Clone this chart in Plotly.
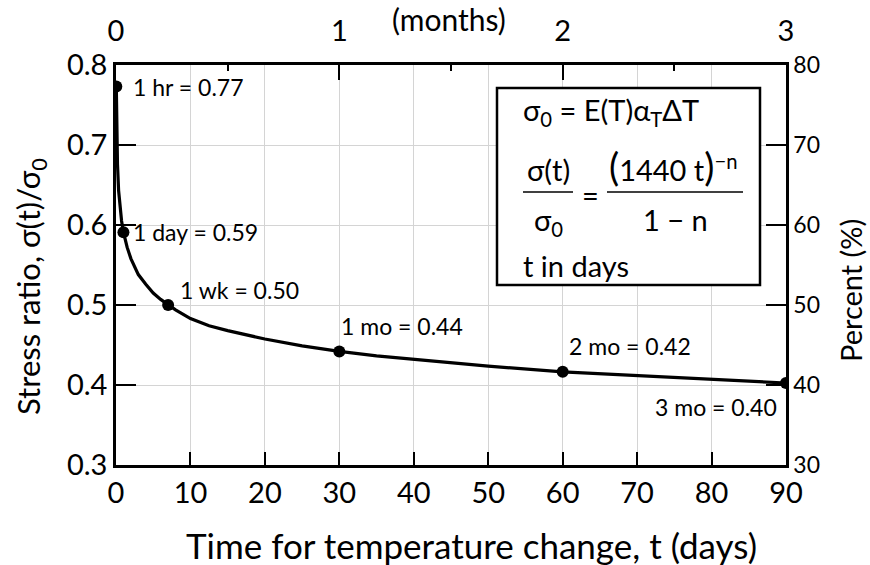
import plotly.graph_objects as go

# ---- data ----
t_days = [0.0417, 0.1, 0.2, 0.35, 0.5, 0.75, 1, 1.5, 2, 3, 4, 5, 6, 7, 8, 10,
          12.5, 15, 17.5, 20, 25, 30, 35, 40, 50, 60, 70, 80, 90]
stress_ratio = [0.773, 0.718, 0.676, 0.643, 0.625, 0.605, 0.591, 0.572, 0.558,
                0.538, 0.526, 0.515, 0.507, 0.500, 0.494, 0.483, 0.474, 0.468,
                0.4625, 0.4575, 0.449, 0.442, 0.4365, 0.432, 0.4235, 0.4165,
                0.4115, 0.407, 0.4025]

key_t = [1 / 24, 1, 7, 30, 60, 90]
key_ratio = [0.773, 0.591, 0.500, 0.442, 0.4165, 0.4025]
key_labels = ["1 hr = 0.77", "1 day = 0.59", "1 wk = 0.50",
              "1 mo = 0.44", "2 mo = 0.42", "3 mo = 0.40"]

x_range = [0, 90]
y_range = [0.3, 0.8]
day_ticks = [0, 10, 20, 30, 40, 50, 60, 70, 80, 90]
ratio_ticks = [0.3, 0.4, 0.5, 0.6, 0.7, 0.8]
months = [0, 1, 2, 3]
days_per_month = 30
percent_range = [v * 100 for v in y_range]
percent_ticks = [30, 40, 50, 60, 70, 80]

FONT = "Lato"
W, H = 870, 565
L, R, T, B = 116, 84, 65, 100


def px(xp):
    return (xp - L) / (W - L - R)


def py(yp):
    return (H - B - yp) / (H - T - B)


fig = go.Figure()

fig.add_trace(go.Scatter(x=t_days, y=stress_ratio, mode="lines",
                         line=dict(color="black", width=3.2),
                         hoverinfo="skip", showlegend=False))
fig.add_trace(go.Scatter(x=key_t, y=key_ratio, mode="markers",
                         marker=dict(color="black", size=12),
                         showlegend=False))
# helpers so the secondary axes are drawn
fig.add_trace(go.Scatter(x=[m * days_per_month for m in months], y=[y_range[0]] * len(months),
                         xaxis="x2", yaxis="y", mode="markers",
                         marker=dict(opacity=0), hoverinfo="skip", showlegend=False))
fig.add_trace(go.Scatter(x=x_range, y=percent_range, xaxis="x", yaxis="y2", mode="markers",
                         marker=dict(opacity=0), hoverinfo="skip", showlegend=False))

# point labels
label_style = [
    dict(xshift=15, yshift=0, xanchor="left"),
    dict(xshift=8, yshift=0, xanchor="left"),
    dict(xshift=10, yshift=15, xanchor="left"),
    dict(xshift=0, yshift=25, xanchor="left"),
    dict(xshift=4, yshift=26, xanchor="left"),
    dict(xshift=-7, yshift=-24, xanchor="right"),
]
for tx, ty, lab, st in zip(key_t, key_ratio, key_labels, label_style):
    fig.add_annotation(x=tx, y=ty, xref="x", yref="y", text=lab, showarrow=False,
                       yanchor="middle", font=dict(family=FONT, size=23, color="black"),
                       **st)

axis_font = dict(family=FONT, size=29, color="black")

fig.update_layout(
    width=W, height=H,
    margin=dict(l=L, r=R, t=T, b=B),
    paper_bgcolor="white", plot_bgcolor="white",
    font=dict(family=FONT, color="black"),
    xaxis=dict(range=x_range, tickvals=day_ticks, ticks="inside", ticklen=13,
               tickwidth=2, tickcolor="black", showline=True, linecolor="black",
               linewidth=2.5, showgrid=True, gridcolor="#d4d4d4", gridwidth=1,
               zeroline=False, tickfont=axis_font),
    xaxis2=dict(range=x_range, overlaying="x", side="top", anchor="y",
                tickvals=[m * days_per_month for m in months],
                ticktext=[str(m) for m in months],
                ticks="inside", ticklen=15, tickwidth=2, tickcolor="black",
                minor=dict(dtick=days_per_month / 2, tick0=0, ticks="inside",
                           ticklen=6, tickwidth=2, tickcolor="black", showgrid=False),
                ticklabelstandoff=10,
                showline=True, linecolor="black", linewidth=2.5, showgrid=False,
                zeroline=False, tickfont=axis_font),
    yaxis=dict(range=y_range, tickvals=ratio_ticks, tickformat=".1f", ticks="inside",
               ticklen=20, tickwidth=2, tickcolor="black", showline=True,
               linecolor="black", linewidth=2.5, showgrid=True, gridcolor="#d4d4d4",
               gridwidth=1, zeroline=False, tickfont=axis_font),
    yaxis2=dict(range=percent_range, tickvals=percent_ticks, overlaying="y", side="right",
                anchor="x", ticks="inside", ticklen=20, tickwidth=2, tickcolor="black",
                showline=True, linecolor="black", linewidth=2.5, showgrid=False,
                zeroline=False, tickfont=dict(family=FONT, size=23, color="black")),
)

fig.add_annotation(xref="paper", yref="paper", x=px(471), y=py(545),
                   text="Time for temperature change, t (days)", showarrow=False,
                   xanchor="center", yanchor="middle",
                   font=dict(family=FONT, size=35, color="black"))
fig.add_annotation(xref="paper", yref="paper", x=px(30), y=py(287),
                   text="Stress ratio, σ(t)/σ<sub>0</sub>", showarrow=False,
                   textangle=-90, xanchor="center", yanchor="middle",
                   font=dict(family=FONT, size=31, color="black"))
fig.add_annotation(xref="paper", yref="paper", x=px(850), y=py(291),
                   text="Percent (%)", showarrow=False, textangle=-90,
                   xanchor="center", yanchor="middle",
                   font=dict(family=FONT, size=29, color="black"))
fig.add_annotation(xref="paper", yref="paper", x=px(449), y=py(19),
                   text="(months)", showarrow=False, xanchor="center",
                   yanchor="middle", font=dict(family=FONT, size=30, color="black"))

# equation box
fig.add_shape(type="rect", xref="paper", yref="paper", x0=px(497), x1=px(760),
              y0=py(285), y1=py(88), fillcolor="white",
              line=dict(color="black", width=2.5), layer="above")
fig.add_shape(type="line", xref="paper", yref="paper", x0=px(523), x1=px(573),
              y0=py(192), y1=py(192), line=dict(color="black", width=1.5), layer="above")
fig.add_shape(type="line", xref="paper", yref="paper", x0=px(607), x1=px(743),
              y0=py(192), y1=py(192), line=dict(color="black", width=1.5), layer="above")

eq_font = dict(family=FONT, size=29, color="black")
big_paren = '<span style="font-size:38px">%s</span>'
eq_items = [
    ("σ<sub>0</sub> = E(T)α<sub>T</sub>ΔT", 521, 111, "left"),
    ("σ(t)", 548, 169, "center"),
    ("σ<sub>0</sub>", 548, 221, "center"),
    ("=", 590, 194, "center"),
    (big_paren % "(" + "1440 t" + big_paren % ")" + "<sup>−n</sup>", 673, 166, "center"),
    ("1 − n", 675, 219, "center"),
    ("t in days", 521, 265, "left"),
]
for txt, xp_, yp_, anc in eq_items:
    fig.add_annotation(xref="paper", yref="paper", x=px(xp_), y=py(yp_), text=txt,
                       showarrow=False, xanchor=anc, yanchor="middle", font=eq_font)

fig.write_html("out.html")
